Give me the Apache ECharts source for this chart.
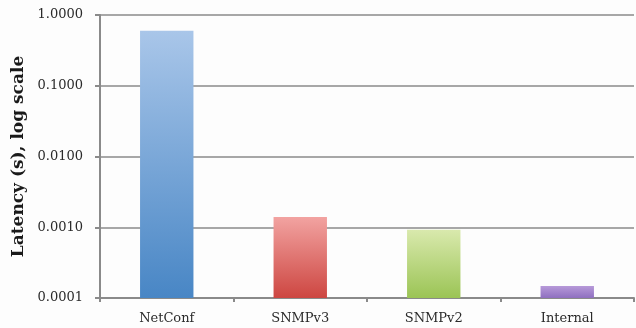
<!DOCTYPE html>
<html>
<head>
<meta charset="utf-8">
<script src="https://cdn.jsdelivr.net/npm/echarts@6/dist/echarts.min.js"></script>
<style>
  html, body { margin: 0; padding: 0; background: #fdfdfd; }
  #chart { width: 636px; height: 328px; }
</style>
</head>
<body>
<div id="chart"></div>
<script>
// Protocols compared and their measured latency in seconds
const categories = ['NetConf', 'SNMPv3', 'SNMPv2', 'Internal'];
const latency = [0.6, 0.0014, 0.00092, 0.000148];
// Top and bottom colours of each bar's vertical gradient
const topColors = ['#a9c6e9', '#f2a3a1', '#d9e9ad', '#b79ad9'];
const bottomColors = ['#4886c5', '#cd4641', '#9bc455', '#8f6fc0'];
const axisFloor = 0.0001;
const barRatio = 0.4;

const serif = '"DejaVu Serif", "Liberation Serif", serif';
const gray = '#8a8a8a';

// Bars on a log axis rise from the axis floor rather than from 1
function renderBar(params, api) {
  const idx = api.value(0);
  const val = api.value(1);
  const top = api.coord([idx, val]);
  const base = api.coord([idx, axisFloor]);
  const bw = api.size([1, 0])[0] * barRatio;
  return {
    type: 'rect',
    shape: { x: top[0] - bw / 2, y: top[1], width: bw, height: base[1] - top[1] },
    style: {
      fill: new echarts.graphic.LinearGradient(0, 0, 0, 1, [
        { offset: 0, color: topColors[idx] },
        { offset: 1, color: bottomColors[idx] }
      ])
    }
  };
}

const chart = echarts.init(document.getElementById('chart'), null, { renderer: 'canvas' });
chart.setOption({
  backgroundColor: '#fdfdfd',
  animation: false,
  grid: { left: 100, right: 2, top: 15, bottom: 30, containLabel: false },
  xAxis: {
    type: 'category',
    data: categories,
    boundaryGap: true,
    axisLine: { lineStyle: { color: gray, width: 2 } },
    axisTick: { show: true, length: 4, lineStyle: { color: gray, width: 2 } },
    axisLabel: { color: '#2b2b2b', fontFamily: serif, fontSize: 13, margin: 14 }
  },
  yAxis: {
    type: 'log',
    logBase: 10,
    min: axisFloor,
    max: 1,
    name: 'Latency (s), log scale',
    nameLocation: 'middle',
    nameGap: 67,
    nameRotate: 90,
    nameTextStyle: { color: '#1a1a1a', fontFamily: serif, fontSize: 17, fontWeight: 'bold' },
    axisLine: { show: true, lineStyle: { color: gray, width: 2 } },
    axisTick: { show: true, length: 5, lineStyle: { color: gray, width: 2 } },
    splitLine: { show: true, lineStyle: { color: gray, width: 1.6 } },
    axisLabel: {
      color: '#2b2b2b', fontFamily: serif, fontSize: 13, margin: 17,
      formatter: v => Number(v).toFixed(4)
    }
  },
  series: [{
    type: 'custom',
    renderItem: renderBar,
    encode: { x: 0, y: 1 },
    data: latency.map((v, i) => [i, v]),
    z: 3
  }]
});
</script>
</body>
</html>
